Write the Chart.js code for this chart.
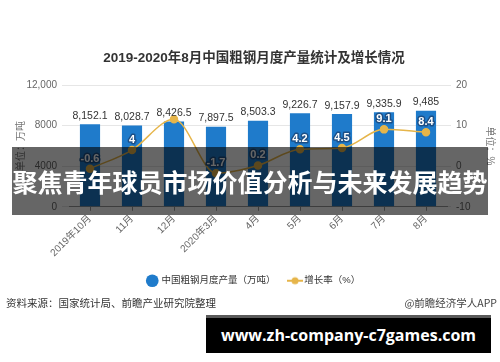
<!doctype html>
<html>
<head>
<meta charset="utf-8">
<title>粗钢月度产量</title>
<script src="https://cdn.jsdelivr.net/npm/chart.js@4.4.0/dist/chart.umd.min.js"></script>
<style>
  body { margin: 0; background: #fff; }
  #wrap { position: relative; width: 500px; height: 362px; overflow: hidden; font-family: 'Noto Sans CJK SC', sans-serif; }
  #canvas { position: absolute; left: 0; top: 0; }
  .src { position: absolute; top: 295px; font-size: 10.5px; color: #333; white-space: nowrap; }
  #band { position: absolute; left: 12px; top: 147px; width: 476px; height: 68px; background: rgba(0,0,0,0.6);
          color: #fff; font-weight: bold; font-size: 25px; line-height: 68px; text-align: center; white-space: nowrap; }
  #site { position: absolute; left: 206px; top: 315px; width: 285px; height: 35px; background: #000; border-top: 3px solid #5a5a5a;
          color: #fff; font-family: 'Open Sans', sans-serif; font-weight: bold; font-size: 16px; line-height: 35px;
          text-align: center; white-space: nowrap; }
</style>
</head>
<body>
<div id="wrap">
  <canvas id="canvas" width="500" height="362"></canvas>
  <div class="src" style="left:6px;">资料来源：国家统计局、前瞻产业研究院整理</div>
  <div class="src" style="right:3px;color:#444;">@前瞻经济学人APP</div>
  <div id="band">聚焦青年球员市场价值分析与未来发展趋势</div>
  <div id="site">www.zh-company-c7games.com</div>
</div>

<script>
var months = ['2019年10月', '11月', '12月', '2020年3月', '4月', '5月', '6月', '7月', '8月'];
var output = [8152.1, 8028.7, 8426.5, 7897.5, 8503.3, 9226.7, 9157.9, 9335.9, 9485];
var growth = [-0.6, 4, 11.6, -1.7, 0.2, 4.2, 4.5, 9.1, 8.4];
var leftTicks = {0: '0', 4000: '4000', 8000: '8000', 12000: '12,000'};

var FONT = "'Liberation Sans', 'Noto Sans CJK SC', sans-serif";
var BLUE = '#1f7bcb';
var GOLD = '#e6b54a';

// small line+dot swatch for the legend
var swatch = document.createElement('canvas');
swatch.width = 16; swatch.height = 10;
(function () {
  var c = swatch.getContext('2d');
  c.strokeStyle = GOLD; c.lineWidth = 2;
  c.beginPath(); c.moveTo(0, 5); c.lineTo(16, 5); c.stroke();
  c.fillStyle = GOLD;
  c.beginPath(); c.arc(8, 5, 3.5, 0, Math.PI * 2); c.fill();
})();

var valueLabels = {
  id: 'valueLabels',
  afterDatasetsDraw: function (chart) {
    var ctx = chart.ctx;
    var bars = chart.getDatasetMeta(0).data;
    var pts = chart.getDatasetMeta(1).data;
    ctx.save();
    ctx.textAlign = 'center';
    ctx.textBaseline = 'middle';
    // growth labels (12月 one sits under the bar value, not shown in source)
    ctx.font = 'bold 11px ' + FONT;
    ctx.lineJoin = 'round';
    pts.forEach(function (p, i) {
      if (i === 2) return;
      var t = String(growth[i]);
      ctx.lineWidth = 3;
      ctx.strokeStyle = '#1c4f86';
      ctx.strokeText(t, p.x, p.y - 10);
      ctx.fillStyle = '#fff';
      ctx.fillText(t, p.x, p.y - 10);
    });
    // bar values
    ctx.font = '10.5px ' + FONT;
    ctx.fillStyle = '#333';
    ctx.textBaseline = 'bottom';
    bars.forEach(function (b, i) {
      var t = output[i].toLocaleString('en-US', {maximumFractionDigits: 1});
      ctx.fillText(t, b.x, b.y - 3);
    });
    ctx.restore();
  }
};

new Chart(document.getElementById('canvas'), {
  type: 'bar',
  data: {
    labels: months,
    datasets: [
      {
        type: 'bar',
        label: '中国粗钢月度产量（万吨）',
        data: output,
        backgroundColor: BLUE,
        barPercentage: 0.48,
        categoryPercentage: 1,
        yAxisID: 'y',
        order: 1
      },
      {
        type: 'line',
        label: '增长率（%）',
        data: growth,
        borderColor: GOLD,
        backgroundColor: GOLD,
        borderWidth: 1.5,
        pointRadius: 3.5,
        pointBackgroundColor: GOLD,
        pointBorderColor: GOLD,
        tension: 0.4,
        cubicInterpolationMode: 'monotone',
        yAxisID: 'y1',
        order: 0
      }
    ]
  },
  options: {
    responsive: false,
    animation: false,
    layout: { padding: { left: 12, right: 4, top: 50, bottom: 68 } },
    plugins: {
      tooltip: { enabled: false },
      title: {
        display: true,
        text: '2019-2020年8月中国粗钢月度产量统计及增长情况',
        color: '#333',
        font: { family: FONT, size: 13.5, weight: 'bold' },
        padding: { top: 0, bottom: 19 }
      },
      legend: {
        position: 'bottom',
        maxHeight: 33,
        labels: {
          usePointStyle: true,
          boxWidth: 9,
          boxHeight: 9,
          padding: 15,
          color: '#333',
          font: { family: FONT, size: 9.5 },
          sort: function (a, b) { return a.datasetIndex - b.datasetIndex; },
          generateLabels: function (chart) {
            var items = Chart.defaults.plugins.legend.labels.generateLabels(chart);
            items.forEach(function (it) {
              if (it.datasetIndex === 0) { it.pointStyle = 'circle'; it.fillStyle = BLUE; it.strokeStyle = BLUE; }
              else { it.pointStyle = swatch; }
            });
            return items;
          }
        }
      }
    },
    scales: {
      x: {
        offset: true,
        grid: { display: true, drawOnChartArea: false, offset: false, tickLength: 4, color: '#999' },
        border: { display: true, color: '#999' },
        ticks: { color: '#666', font: { family: FONT, size: 10 }, minRotation: 45, maxRotation: 45, padding: 2 }
      },
      y: {
        position: 'left',
        min: 0, max: 12000,
        afterFit: function (s) { s.width = 57; },
        grid: { color: '#e6e6e6', tickLength: 7 },
        border: { display: false },
        ticks: { stepSize: 4000, color: '#666', padding: 5, font: { family: FONT, size: 10 },
                 callback: function (v) { return leftTicks[v]; } },
        title: { display: true, text: '单位：万吨', color: '#777', font: { family: FONT, size: 10 }, padding: { top: 3, bottom: 0 } }
      },
      y1: {
        position: 'right',
        min: -10, max: 20,
        afterFit: function (s) { s.width = 49; },
        grid: { drawOnChartArea: false, color: '#e6e6e6', tickLength: 4 },
        border: { display: false },
        ticks: { stepSize: 10, color: '#666', padding: 5, font: { family: FONT, size: 10 } },
        title: { display: true, text: '单位：%', color: '#777', font: { family: FONT, size: 10 }, padding: 0 }
      }
    }
  },
  plugins: [valueLabels]
});
</script>
</body>
</html>
